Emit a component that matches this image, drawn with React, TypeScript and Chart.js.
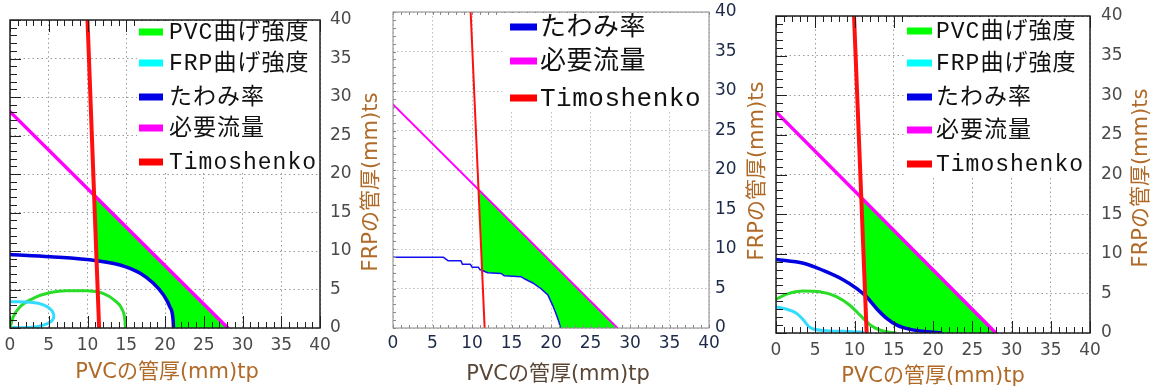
import React, { useEffect, useRef } from "react";
import { Chart, registerables } from "chart.js";

Chart.register(...registerables);

// ---------------- data ----------------
const TICK_VALUES = [0, 5, 10, 15, 20, 25, 30, 35, 40];
const TICK_LABELS = ["0", "5", "10", "15", "20", "25", "30", "35", "40"];
const X_TITLE = "PVCの管厚(mm)tp";
const Y_TITLE = "FRPの管厚(mm)ts";

const NAME_PVC = "PVC曲げ強度";
const NAME_FRP = "FRP曲げ強度";
const NAME_DEFL = "たわみ率";
const NAME_FLOW = "必要流量";
const NAME_TIMO = "Timoshenko";

// Panel 1 (left)
const P1_PVC_X = [0, 0.43, 1.3, 3.0, 5.2, 7.3, 9.9, 12.0, 13.5, 14.4, 14.8, 14.9];
const P1_PVC_Y = [0.1, 1.47, 2.77, 3.85, 4.6, 4.85, 4.85, 4.5, 3.6, 2.55, 1.25, 0];
const P1_FRP_X = [0, 2.6, 4.3, 5.4, 5.6, 4.9, 3.4, 1.7, 0.4];
const P1_FRP_Y = [3.42, 3.33, 3.0, 2.25, 1.25, 0.6, 0.17, 0.04, 0.05];
const P1_DEFL_X = [0, 5.2, 11.2, 14.2, 16.8, 18.5, 19.8, 20.6, 21.05, 21.1];
const P1_DEFL_Y = [9.55, 9.26, 8.74, 8.18, 7.1, 5.8, 4.3, 2.8, 1.0, 0];
const P1_FLOW_X = [0, 28.1];
const P1_FLOW_Y = [28.1, 0];
const P1_TIMO_X = [10, 11.5];
const P1_TIMO_Y = [40, 0];
const P1_AREA_X = [10.85, 28.1, 21.1, 21.05, 20.6, 19.8, 18.5, 16.8, 14.2, 11.17];
const P1_AREA_Y = [17.25, 0, 0, 1.0, 2.8, 4.3, 5.8, 7.1, 8.18, 8.75];

// Panel 2 (middle)
const P2_DEFL_X = [0, 6.4, 7.0, 8.6, 8.8, 9.8, 10.0, 10.8, 11.0, 12.0, 13.7, 14.1, 16.2, 16.7, 17.7, 18.7, 19.6, 20.2, 20.6, 21.0, 21.2];
const P2_DEFL_Y = [8.95, 8.95, 8.5, 8.5, 8.06, 8.06, 7.7, 7.7, 7.4, 7.0, 6.9, 6.6, 6.5, 6.2, 5.7, 5.0, 4.2, 2.9, 1.9, 0.8, 0];
const P2_FLOW_X = [0, 28.4];
const P2_FLOW_Y = [28.3, 0];
const P2_TIMO_X = [9.83, 11.6];
const P2_TIMO_Y = [40, 0];
const P2_AREA_X = [10.83, 28.4, 21.2, 21.0, 20.6, 20.2, 19.6, 18.7, 17.7, 16.7, 16.2, 14.1, 13.7, 12.0, 11.27];
const P2_AREA_Y = [17.5, 0, 0, 0.8, 1.9, 2.9, 4.2, 5.0, 5.7, 6.2, 6.5, 6.6, 6.9, 7.0, 7.35];

// Panel 3 (right)
const P3_PVC_X = [0, 1.36, 3.5, 5.6, 7.7, 9.4, 10.9, 12.0, 13.2, 14.5, 15.2];
const P3_PVC_Y = [4.25, 4.9, 5.3, 5.2, 4.6, 3.5, 2.06, 1.0, 0.38, 0.1, 0.02];
const P3_FRP_X = [0, 1.36, 2.6, 3.5, 4.1, 4.75, 6.45, 9.85, 11.1];
const P3_FRP_Y = [3.3, 3.0, 2.5, 1.64, 0.88, 0.5, 0.3, 0.17, 0.1];
const P3_DEFL_X = [0, 3.5, 6.0, 8.6, 10.3, 11.5, 12.8, 14.1, 15.4, 17.1, 19.2, 21.0];
const P3_DEFL_Y = [9.29, 8.8, 7.9, 6.7, 5.6, 4.6, 3.1, 1.85, 1.0, 0.46, 0.17, 0.03];
const P3_FLOW_X = [0, 28.0];
const P3_FLOW_Y = [27.9, 0];
const P3_TIMO_X = [9.94, 11.55];
const P3_TIMO_Y = [40, 0];
const P3_AREA_X = [10.86, 28.0, 21.0, 19.2, 17.1, 15.4, 14.1, 12.8, 11.5, 11.36];
const P3_AREA_Y = [17.08, 0, 0, 0.17, 0.46, 1.0, 1.85, 3.1, 4.6, 4.72];

// ---------------- styles / layout ----------------
const C_GREEN_LINE = "#28dc28";
const C_GREEN_FILL = "#00ff00";
const C_CYAN = "#33dcff";
const C_BLUE = "#0000e0";
const C_MAGENTA = "#ff00ff";
const C_RED = "#ff1010";

type Series = {
  label: string;
  xs: number[];
  ys: number[];
  color: string;
  legendColor: string;
  width: number;
  mode: "mono" | "bezier" | "linear";
};

type PanelSpec = {
  left: number;
  W: number;
  H: number;
  area: { l: number; t: number; r: number; b: number };
  xPad: number;
  yPad: number;
  thin: boolean;
  tickColor: string;
  gridColor: string;
  frameColor: string;
  frameWidth: number;
  xTitleColor: string;
  yTitleColor: string;
  xTitlePos: [number, number];
  yTitlePos: [number, number];
  legend: {
    x: number; y: number; w: number; h: number;
    rows: number[]; barX: number; barW: number; barH: number; textX: number; font: number; spacing: number;
  };
  series: Series[]; // drawn order: first on top
  area_: { xs: number[]; ys: number[] };
};

const PANELS: PanelSpec[] = [
  {
    left: 0, W: 385, H: 387,
    area: { l: 10, t: 20, r: 320, b: 328 },
    xPad: 7, yPad: 10, thin: false,
    tickColor: "#4a4a4a", gridColor: "#9a9a9a", frameColor: "#202020", frameWidth: 1.5,
    xTitleColor: "#b06a28", yTitleColor: "#b06a28",
    xTitlePos: [167, 373], yTitlePos: [372, 182],
    legend: { x: 137, y: 21, w: 182, h: 152, rows: [32, 63, 97, 128, 162], barX: 139, barW: 24, barH: 7, textX: 169, font: 23, spacing: 1 },
    series: [
      { label: NAME_TIMO, xs: P1_TIMO_X, ys: P1_TIMO_Y, color: C_RED, legendColor: "#ff0000", width: 4, mode: "linear" },
      { label: NAME_FLOW, xs: P1_FLOW_X, ys: P1_FLOW_Y, color: C_MAGENTA, legendColor: "#ff00ff", width: 3.5, mode: "linear" },
      { label: NAME_DEFL, xs: P1_DEFL_X, ys: P1_DEFL_Y, color: C_BLUE, legendColor: "#0000e6", width: 3.5, mode: "mono" },
      { label: NAME_FRP, xs: P1_FRP_X, ys: P1_FRP_Y, color: C_CYAN, legendColor: "#00ffff", width: 3, mode: "bezier" },
      { label: NAME_PVC, xs: P1_PVC_X, ys: P1_PVC_Y, color: C_GREEN_LINE, legendColor: "#00ff00", width: 3, mode: "mono" },
    ],
    area_: { xs: P1_AREA_X, ys: P1_AREA_Y },
  },
  {
    left: 385, W: 385, H: 387,
    area: { l: 8, t: 12, r: 324, b: 328 },
    xPad: 5, yPad: 6, thin: true,
    tickColor: "#1c2a48", gridColor: "#bdbdbd", frameColor: "#8a8a8a", frameWidth: 1,
    xTitleColor: "#5a4636", yTitleColor: "#b06a28",
    xTitlePos: [173, 375], yTitlePos: [373, 171],
    legend: { x: 117, y: 13, w: 206, h: 98, rows: [27, 61, 98], barX: 125, barW: 27, barH: 7, textX: 155, font: 26, spacing: 0.5 },
    series: [
      { label: NAME_TIMO, xs: P2_TIMO_X, ys: P2_TIMO_Y, color: C_RED, legendColor: "#ff0000", width: 2, mode: "linear" },
      { label: NAME_FLOW, xs: P2_FLOW_X, ys: P2_FLOW_Y, color: C_MAGENTA, legendColor: "#ff00ff", width: 2, mode: "linear" },
      { label: NAME_DEFL, xs: P2_DEFL_X, ys: P2_DEFL_Y, color: "#1010f0", legendColor: "#0000e6", width: 1.5, mode: "linear" },
    ],
    area_: { xs: P2_AREA_X, ys: P2_AREA_Y },
  },
  {
    left: 770, W: 384, H: 387,
    area: { l: 6, t: 16, r: 320, b: 333 },
    xPad: 7, yPad: 11, thin: false,
    tickColor: "#4a4a4a", gridColor: "#9a9a9a", frameColor: "#202020", frameWidth: 1.5,
    xTitleColor: "#b06a28", yTitleColor: "#b06a28",
    xTitlePos: [163, 377], yTitlePos: [372, 178],
    legend: { x: 135, y: 17, w: 184, h: 158, rows: [31, 63, 97, 130, 164], barX: 137, barW: 25, barH: 7, textX: 166, font: 23, spacing: 1 },
    series: [
      { label: NAME_TIMO, xs: P3_TIMO_X, ys: P3_TIMO_Y, color: C_RED, legendColor: "#ff0000", width: 4, mode: "linear" },
      { label: NAME_FLOW, xs: P3_FLOW_X, ys: P3_FLOW_Y, color: C_MAGENTA, legendColor: "#ff00ff", width: 3.5, mode: "linear" },
      { label: NAME_DEFL, xs: P3_DEFL_X, ys: P3_DEFL_Y, color: C_BLUE, legendColor: "#0000e6", width: 3.5, mode: "mono" },
      { label: NAME_FRP, xs: P3_FRP_X, ys: P3_FRP_Y, color: C_CYAN, legendColor: "#00ffff", width: 3, mode: "mono" },
      { label: NAME_PVC, xs: P3_PVC_X, ys: P3_PVC_Y, color: C_GREEN_LINE, legendColor: "#00ff00", width: 3, mode: "mono" },
    ],
    area_: { xs: P3_AREA_X, ys: P3_AREA_Y },
  },
];

const LEGEND_ORDER = [NAME_PVC, NAME_FRP, NAME_DEFL, NAME_FLOW, NAME_TIMO];
const TICK_FONT = '"DejaVu Sans"';
const TITLE_FONT = '21px "DejaVu Sans", "Noto Sans CJK JP"';

function buildConfig(p: PanelSpec): any {
  const toPts = (xs: number[], ys: number[]) => xs.map((x, i) => ({ x, y: ys[i] }));
  const datasets: any[] = p.series.map((s) => ({
    label: s.label,
    data: toPts(s.xs, s.ys),
    showLine: true,
    borderColor: s.color,
    backgroundColor: s.color,
    borderWidth: s.width,
    pointRadius: 0,
    fill: false,
    tension: s.mode === "bezier" ? 0.45 : s.mode === "mono" ? 0.4 : 0,
    cubicInterpolationMode: s.mode === "mono" ? "monotone" : "default",
    borderCapStyle: "round",
    borderJoinStyle: "round",
  }));
  datasets.push({
    label: "feasible",
    data: toPts(p.area_.xs, p.area_.ys),
    showLine: true,
    borderColor: "rgba(0,0,0,0)",
    backgroundColor: C_GREEN_FILL,
    borderWidth: 1,
    pointRadius: 0,
    fill: "shape",
    tension: 0,
  });

  const axisCommon = (axis: "x" | "y") => ({
    type: "linear",
    min: 0,
    max: 40,
    afterBuildTicks: (s: any) => {
      s.ticks = TICK_VALUES.map((v) => ({ value: v }));
    },
    ticks: {
      color: p.tickColor,
      font: { family: TICK_FONT, size: 17 },
      padding: axis === "x" ? p.xPad : p.yPad,
      maxRotation: 0,
      autoSkip: false,
      callback: (v: number) => TICK_LABELS[TICK_VALUES.indexOf(v)],
    },
    grid: { color: p.gridColor, lineWidth: 1, drawTicks: false, drawOnChartArea: true },
    border: { display: false, dash: p.thin ? [1.5, 2.5] : [1.5, 3] },
  });

  const decor = {
    id: "decor",
    afterDraw(chart: any) {
      const ctx: CanvasRenderingContext2D = chart.ctx;
      const a = chart.chartArea;
      const xs = chart.scales.x;
      const ys = chart.scales.y;
      ctx.save();
      // inward tick marks
      ctx.strokeStyle = p.frameColor;
      ctx.lineWidth = 1;
      ctx.beginPath();
      for (let v = 0; v <= 40; v++) {
        const major = v % 5 === 0;
        const len = p.thin ? 3 : major ? 12 : 6;
        const px = Math.round(xs.getPixelForValue(v)) + 0.5;
        const py = Math.round(ys.getPixelForValue(v)) + 0.5;
        ctx.moveTo(px, a.bottom);
        ctx.lineTo(px, a.bottom - len);
        ctx.moveTo(px, a.top);
        ctx.lineTo(px, a.top + len);
        ctx.moveTo(a.left, py);
        ctx.lineTo(a.left + (p.thin ? 3 : major ? 11 : 7), py);
      }
      ctx.stroke();
      // legend box
      const lg = p.legend;
      ctx.fillStyle = "#ffffff";
      ctx.fillRect(lg.x, lg.y, lg.w, lg.h);
      // frame
      ctx.strokeStyle = p.frameColor;
      ctx.lineWidth = p.frameWidth;
      ctx.strokeRect(a.left, a.top, a.right - a.left, a.bottom - a.top);
      // legend entries
      const entries = LEGEND_ORDER.map((name) => p.series.find((s) => s.label === name)).filter(Boolean) as Series[];
      ctx.font = `${lg.font}px "Liberation Mono", "Noto Sans CJK JP"`;
      (ctx as any).letterSpacing = `${lg.spacing}px`;
      ctx.textAlign = "left";
      ctx.textBaseline = "middle";
      entries.forEach((s, i) => {
        const y = lg.rows[i];
        ctx.fillStyle = s.legendColor;
        ctx.fillRect(lg.barX, y - lg.barH / 2, lg.barW, lg.barH);
        ctx.fillStyle = "#111111";
        ctx.fillText(s.label, lg.textX, y + 1);
      });
      (ctx as any).letterSpacing = "0px";
      // axis titles
      ctx.font = TITLE_FONT;
      ctx.textAlign = "center";
      ctx.textBaseline = "middle";
      ctx.fillStyle = p.xTitleColor;
      ctx.fillText(X_TITLE, p.xTitlePos[0], p.xTitlePos[1]);
      ctx.save();
      ctx.translate(p.yTitlePos[0], p.yTitlePos[1]);
      ctx.rotate(-Math.PI / 2);
      ctx.fillStyle = p.yTitleColor;
      ctx.fillText(Y_TITLE, 0, 0);
      ctx.restore();
      ctx.restore();
    },
  };

  return {
    type: "scatter",
    data: { datasets },
    options: {
      responsive: false,
      maintainAspectRatio: false,
      animation: false,
      events: [],
      layout: { padding: { left: p.area.l, top: p.area.t, right: 0, bottom: 0 } },
      plugins: { legend: { display: false }, tooltip: { enabled: false } },
      scales: {
        x: {
          ...axisCommon("x"),
          position: "bottom",
          afterFit: (s: any) => {
            s.height = p.H - p.area.b;
            s.paddingLeft = 0;
            s.paddingRight = 0;
          },
        },
        y: {
          ...axisCommon("y"),
          position: "right",
          afterFit: (s: any) => {
            s.width = p.W - p.area.r;
            s.paddingTop = 0;
            s.paddingBottom = 0;
          },
        },
      },
    },
    plugins: [decor],
  };
}

function Panel({ spec }: { spec: PanelSpec }) {
  const ref = useRef<HTMLCanvasElement>(null);
  useEffect(() => {
    if (!ref.current) return;
    const chart = new Chart(ref.current, buildConfig(spec));
    return () => chart.destroy();
  }, [spec]);
  return (
    <div style={{ position: "absolute", left: spec.left, top: 0, width: spec.W, height: spec.H }}>
      <canvas ref={ref} width={spec.W} height={spec.H} style={{ width: spec.W, height: spec.H, display: "block" }} />
    </div>
  );
}

export default function App() {
  return (
    <div style={{ position: "absolute", left: 0, top: 0, width: 1154, height: 387, background: "#ffffff", overflow: "hidden" }}>
      {PANELS.map((p, i) => (
        <Panel key={i} spec={p} />
      ))}
    </div>
  );
}
